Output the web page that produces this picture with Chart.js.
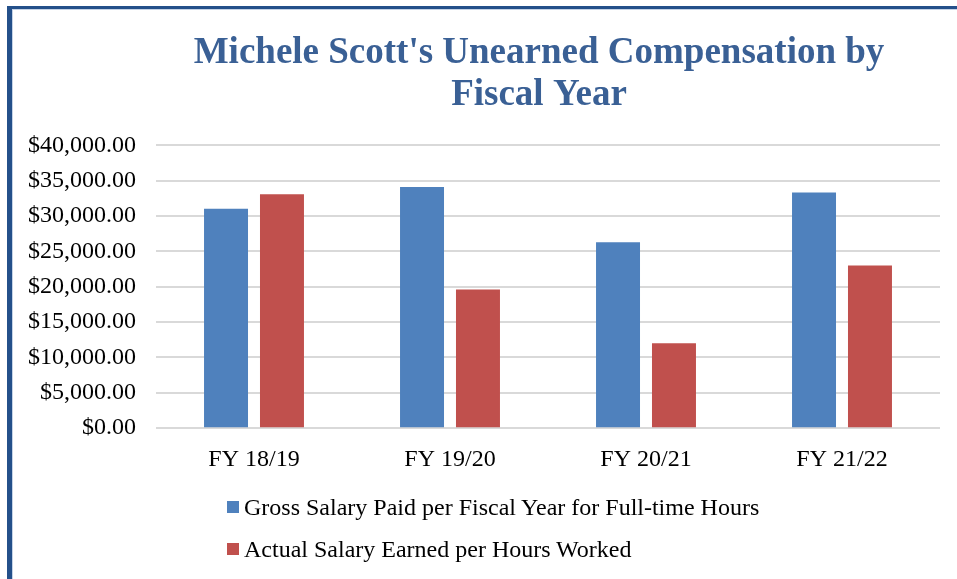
<!DOCTYPE html>
<html>
<head>
<meta charset="utf-8">
<script src="https://cdn.jsdelivr.net/npm/chart.js@4"></script>
<style>
  html, body { margin: 0; padding: 0; background: #fff; }
  body { width: 957px; height: 579px; position: relative; overflow: hidden; }
  #frame { position: absolute; left: 7px; top: 6px; width: 980px; height: 600px;
           border-left: 5px solid #24508A; border-top: 3px solid #24508A;
           box-shadow: inset 1px 1px 0 #C5D3E6; }
  #wrap { position: absolute; left: 0; top: 0; width: 957px; height: 491px; }
  #legend { position: absolute; left: 227px; top: 486px; font-family: "Liberation Serif", "Times New Roman", serif;
            font-size: 24px; color: #000; }
  .item { display: flex; align-items: center; height: 42px; }
  .sw { width: 12px; height: 12px; margin-right: 5px; }
</style>
</head>
<body>
<div id="frame"></div>
<div id="wrap"><canvas id="c"></canvas></div>
<div id="legend"></div>
<script>
const categories = ["FY 18/19", "FY 19/20", "FY 20/21", "FY 21/22"];
const seriesNames = ["Gross Salary Paid per Fiscal Year for Full-time Hours", "Actual Salary Earned per Hours Worked"];
const grossSalary = [31050, 34100, 26300, 33350];
const actualSalary = [33100, 19600, 12000, 23000];
const titleLines = ["Michele Scott's Unearned Compensation by", "Fiscal Year"];
const colors = ["#4F81BD", "#C0504D"];

const fmt = v => "$" + Number(v).toLocaleString("en-US", {minimumFractionDigits: 2, maximumFractionDigits: 2});
const serif = "'Liberation Serif', 'Times New Roman', serif";

// center the title roughly over the plot area, as in the reference
const titleOverPlot = {
  id: "titleOverPlot",
  afterLayout(chart) {
    const t = chart.titleBlock;
    if (t) { t.left = chart.chartArea.left - 9; t.right = chart.chartArea.right - 9; }
  }
};

const chart = new Chart(document.getElementById("c"), {
  type: "bar",
  data: {
    labels: categories,
    datasets: [
      { label: seriesNames[0], data: grossSalary, backgroundColor: colors[0], borderWidth: 0,
        categoryPercentage: 0.571, barPercentage: 0.786 },
      { label: seriesNames[1], data: actualSalary, backgroundColor: colors[1], borderWidth: 0,
        categoryPercentage: 0.571, barPercentage: 0.786 }
    ]
  },
  plugins: [titleOverPlot],
  options: {
    responsive: true,
    maintainAspectRatio: false,
    animation: false,
    layout: { padding: { left: 8, right: 17, top: 32, bottom: 0 } },
    plugins: {
      legend: { display: false },
      tooltip: { enabled: false },
      title: {
        display: true,
        text: titleLines,
        color: "#3A6095",
        font: { family: serif, size: 37, weight: "bold", lineHeight: 1.14 },
        padding: { top: 0, bottom: 29 }
      }
    },
    scales: {
      x: {
        grid: { display: false, drawTicks: false },
        border: { display: false },
        ticks: { color: "#000", padding: 17, font: { family: serif, size: 24, lineHeight: 1.2 } }
      },
      y: {
        min: 0, max: 40000,
        grid: { color: "#D9D9D9", lineWidth: 2, drawTicks: false },
        border: { display: false },
        ticks: { stepSize: 5000, color: "#000", padding: 20, callback: v => fmt(v),
                 font: { family: serif, size: 24 } }
      }
    }
  }
});

const leg = document.getElementById("legend");
chart.data.datasets.forEach(ds => {
  const it = document.createElement("div"); it.className = "item";
  const sw = document.createElement("span"); sw.className = "sw"; sw.style.background = ds.backgroundColor;
  const tx = document.createElement("span"); tx.textContent = ds.label;
  it.appendChild(sw); it.appendChild(tx); leg.appendChild(it);
});
</script>
</body>
</html>
